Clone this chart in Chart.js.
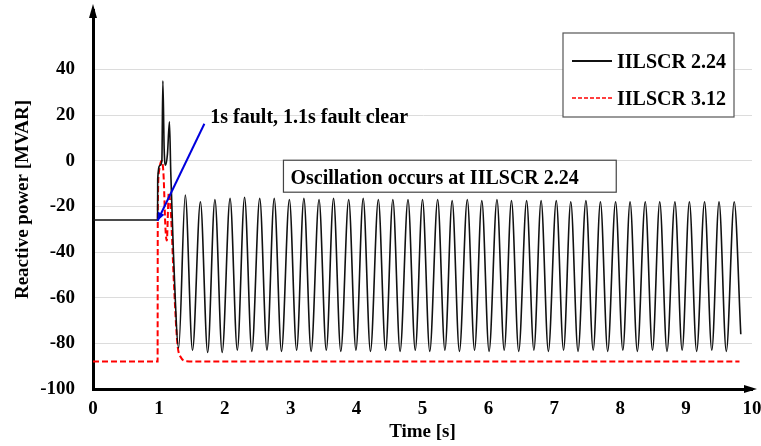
<!DOCTYPE html>
<html>
<head>
<meta charset="utf-8">
<script src="https://cdn.jsdelivr.net/npm/chart.js@4"></script>
<style>
  html, body { margin: 0; padding: 0; background: #fff; }
  #wrap { width: 761px; height: 446px; }
</style>
</head>
<body>
<div id="wrap"><canvas id="grafico"></canvas></div>
<script>
// --- datos ---
const tiempoScr224 = [0, 0.98, 0.982, 1.02, 1.045, 1.06, 1.08, 1.1, 1.13, 1.16, 1.18, 1.22, 1.30,
  1.40, 1.51, 1.63, 1.74, 1.85, 1.96, 2.08, 2.19, 2.30, 2.41, 2.53, 2.64, 2.75, 2.86, 2.98, 3.09,
  3.20, 3.31, 3.43, 3.54, 3.65, 3.76, 3.88, 3.99, 4.10, 4.21, 4.33, 4.44, 4.55, 4.66, 4.78, 4.89,
  5.00, 5.11, 5.23, 5.34, 5.45, 5.56, 5.68, 5.79, 5.90, 6.01, 6.13, 6.24, 6.35, 6.46, 6.58, 6.69,
  6.80, 6.91, 7.03, 7.14, 7.25, 7.36, 7.48, 7.59, 7.70, 7.81, 7.93, 8.04, 8.15, 8.26, 8.38, 8.49,
  8.60, 8.71, 8.83, 8.94, 9.05, 9.16, 9.28, 9.39, 9.50, 9.61, 9.73, 9.83];
const valorScr224 = [-26, -26, -8, -2, 0, 35, 5, -2, 3, 17, -5, -40, -82,
  -15, -83, -18, -84, -17, -84, -16.5, -83, -16, -83.5, -16.5, -83, -16.5, -83.5, -17, -83,
  -16.5, -83.5, -17, -83, -16.5, -83.5, -17, -83, -16.5, -83.5, -17, -83, -17, -83.5, -17, -83,
  -17, -83.5, -17, -83, -17.5, -83.5, -17, -83, -17.5, -83.5, -17, -83, -17.5, -83.5, -17.5, -83,
  -17.5, -83.5, -17.5, -83, -18, -83.5, -17.5, -83, -18, -83.5, -18, -83, -18, -83.5, -18, -83,
  -18, -83.5, -18, -83, -18, -83.5, -18, -83, -18, -83.5, -18, -76];

const tiempoScr312 = [0, 0.98, 0.983, 1.0, 1.04, 1.07, 1.1, 1.12, 1.15, 1.18, 1.23, 1.28, 1.33, 1.42, 1.6, 9.81];
const valorScr312 = [-88, -88, -25, -5, 0, -6, -30, -35, -14, -22, -55, -80, -86, -87.8, -88, -88];

const ticksY = [-100, -80, -60, -40, -20, 0, 20, 40];
const etiquetas = ["IILSCR 2.24", "IILSCR 3.12"];
const colores = ["#111111", "#ff0000"];

const FUENTE = "'Liberation Serif', 'Times New Roman', serif";

function armarPuntos(ts, vs) {
  return ts.map((t, i) => ({ x: t, y: vs[i] }));
}

// dibuja flechas de ejes, anotaciones y leyenda
const extras = {
  id: "extras",
  afterDraw(chart) {
    const ctx = chart.ctx;
    const a = chart.chartArea;
    const sx = chart.scales.x;
    const sy = chart.scales.y;
    ctx.save();

    // flechas de los ejes
    ctx.fillStyle = "#000";
    ctx.beginPath();
    ctx.moveTo(a.left, a.top - 6);
    ctx.lineTo(a.left - 4, a.top + 8);
    ctx.lineTo(a.left + 4, a.top + 8);
    ctx.closePath();
    ctx.fill();
    ctx.beginPath();
    ctx.moveTo(a.right + 5, a.bottom);
    ctx.lineTo(a.right - 8, a.bottom - 4);
    ctx.lineTo(a.right - 8, a.bottom + 4);
    ctx.closePath();
    ctx.fill();

    // flecha azul
    const x1 = sx.getPixelForValue(1.69), y1 = sy.getPixelForValue(16.2);
    const x2 = sx.getPixelForValue(0.98), y2 = sy.getPixelForValue(-26.3);
    ctx.strokeStyle = "#0000dd";
    ctx.fillStyle = "#0000dd";
    ctx.lineWidth = 2;
    ctx.beginPath();
    ctx.moveTo(x1, y1);
    ctx.lineTo(x2, y2);
    ctx.stroke();
    const ang = Math.atan2(y2 - y1, x2 - x1);
    ctx.beginPath();
    ctx.moveTo(x2, y2);
    ctx.lineTo(x2 - 9 * Math.cos(ang - 0.4), y2 - 9 * Math.sin(ang - 0.4));
    ctx.lineTo(x2 - 9 * Math.cos(ang + 0.4), y2 - 9 * Math.sin(ang + 0.4));
    ctx.closePath();
    ctx.fill();

    // textos
    ctx.fillStyle = "#000";
    ctx.font = "bold 20px " + FUENTE;
    ctx.textBaseline = "alphabetic";
    ctx.textAlign = "left";
    ctx.fillText("1s fault, 1.1s fault clear", sx.getPixelForValue(1.78), sy.getPixelForValue(16.3));

    const bx1 = sx.getPixelForValue(2.89), bx2 = sx.getPixelForValue(7.94);
    const by1 = sy.getPixelForValue(0.2), by2 = sy.getPixelForValue(-13.8);
    ctx.fillStyle = "#fff";
    ctx.fillRect(bx1, by1, bx2 - bx1, by2 - by1);
    ctx.strokeStyle = "#444";
    ctx.lineWidth = 1.2;
    ctx.strokeRect(bx1, by1, bx2 - bx1, by2 - by1);
    ctx.fillStyle = "#000";
    ctx.fillText("Oscillation occurs at IILSCR 2.24", bx1 + 7, by2 - 8);

    // leyenda
    ctx.fillStyle = "#fff";
    ctx.fillRect(563, 33, 171, 84);
    ctx.strokeStyle = "#555";
    ctx.lineWidth = 1.2;
    ctx.strokeRect(563, 33, 171, 84);
    etiquetas.forEach((txt, i) => {
      const yy = 61 + i * 37;
      ctx.strokeStyle = colores[i];
      ctx.lineWidth = i === 0 ? 1.8 : 1.5;
      ctx.setLineDash(i === 0 ? [] : [4, 2]);
      ctx.beginPath();
      ctx.moveTo(572, yy);
      ctx.lineTo(612, yy);
      ctx.stroke();
      ctx.setLineDash([]);
      ctx.fillStyle = "#000";
      ctx.textBaseline = "middle";
      ctx.fillText(txt, 617, yy + 2);
    });
    ctx.restore();
  },
};

new Chart(document.getElementById("grafico"), {
  type: "line",
  data: {
    datasets: [
      {
        label: etiquetas[0],
        data: armarPuntos(tiempoScr224, valorScr224),
        borderColor: colores[0],
        borderWidth: 1.6,
        pointRadius: 0,
        cubicInterpolationMode: "monotone",
      },
      {
        label: etiquetas[1],
        data: armarPuntos(tiempoScr312, valorScr312),
        borderColor: colores[1],
        borderWidth: 2,
        borderDash: [6, 3],
        pointRadius: 0,
        cubicInterpolationMode: "monotone",
      },
    ],
  },
  options: {
    responsive: true,
    maintainAspectRatio: false,
    animation: false,
    layout: { padding: { top: 10, right: 9, left: 0, bottom: 0 } },
    plugins: {
      legend: { display: false },
      tooltip: { enabled: false },
    },
    scales: {
      x: {
        type: "linear",
        min: 0,
        max: 10,
        ticks: {
          stepSize: 1,
          color: "#000",
          padding: 9,
          font: { family: FUENTE, size: 19, weight: "bold" },
        },
        grid: { display: false, drawTicks: false },
        border: { color: "#000", width: 3 },
        title: {
          display: true,
          text: "Time [s]",
          color: "#000",
          padding: { top: 2, bottom: 3 },
          font: { family: FUENTE, size: 19, weight: "bold" },
        },
        afterFit(scale) {
          scale.height = 57;
          scale.paddingLeft = 0;
          scale.paddingRight = 0;
        },
      },
      y: {
        min: -100,
        max: 66,
        afterBuildTicks(scale) { scale.ticks = ticksY.map((v) => ({ value: v })); },
        ticks: {
          color: "#000",
          padding: 18,
          font: { family: FUENTE, size: 19, weight: "bold" },
        },
        grid: { color: "#dcdcdc", lineWidth: 1, drawTicks: false },
        border: { color: "#000", width: 3 },
        title: {
          display: true,
          text: "Reactive power [MVAR]",
          color: "#000",
          padding: { top: 12, bottom: 0 },
          font: { family: FUENTE, size: 19, weight: "bold" },
        },
        afterFit(scale) {
          scale.width = 93;
          scale.paddingTop = 0;
          scale.paddingBottom = 0;
        },
      },
    },
  },
  plugins: [extras],
});
</script>
</body>
</html>
